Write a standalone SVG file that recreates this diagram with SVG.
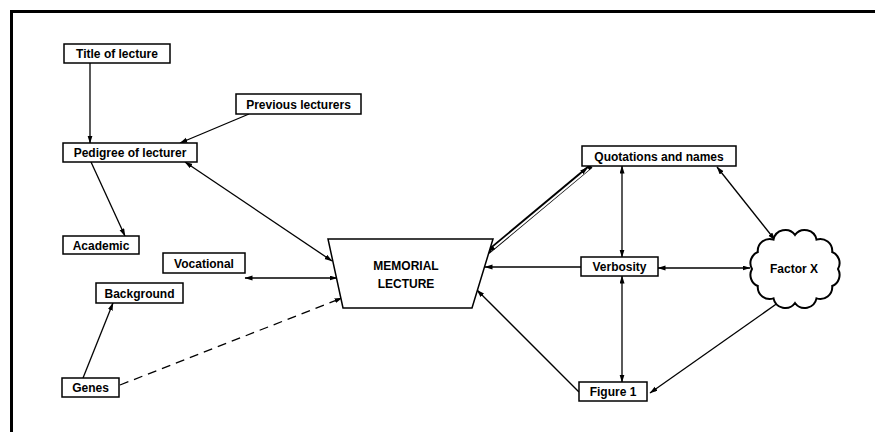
<svg xmlns="http://www.w3.org/2000/svg" width="875" height="432" viewBox="0 0 875 432">
<style>
.box{fill:#fff;stroke:#000;stroke-width:1.5}
.t{font-family:"Liberation Sans",Arial,sans-serif;font-weight:bold;font-size:12px;fill:#000;text-anchor:middle}
.c{stroke:#000;stroke-width:1.3;fill:none}
.frame{stroke:#000;stroke-width:3;fill:none}
</style>
<defs>
<marker id="ah" markerUnits="userSpaceOnUse" markerWidth="9" markerHeight="6" refX="7.5" refY="2.5" orient="auto-start-reverse">
<path d="M0,0 L8,2.5 L0,5 z" fill="#000"/>
</marker>
</defs>
<g id="frame">
<line class="frame" x1="10" y1="11.5" x2="875" y2="11.5"/>
<line class="frame" x1="11.5" y1="10" x2="11.5" y2="432"/>
</g>
<g id="connectors">
<line class="c" x1="90" y1="63" x2="90" y2="143" marker-end="url(#ah)"/>
<line class="c" x1="249" y1="114" x2="180" y2="143" marker-end="url(#ah)"/>
<line class="c" x1="185" y1="162" x2="332" y2="261" marker-start="url(#ah)" marker-end="url(#ah)"/>
<line class="c" x1="91" y1="162" x2="125" y2="236" marker-end="url(#ah)"/>
<line class="c" x1="245" y1="278" x2="337" y2="278" marker-start="url(#ah)" marker-end="url(#ah)"/>
<line class="c" x1="83" y1="378" x2="113" y2="303" marker-end="url(#ah)"/>
<line class="c" x1="120" y1="385" x2="342" y2="298" stroke-dasharray="9 6" marker-end="url(#ah)"/>
<line x1="591" y1="166" x2="488" y2="252" stroke="#000" stroke-width="4.6"/>
<line x1="588.5" y1="169" x2="490.5" y2="250.5" stroke="#fff" stroke-width="2"/>
<path d="M587.5,167.5 L488,252" stroke="none" fill="none" marker-start="url(#ah)" marker-end="url(#ah)"/>
<line class="c" x1="622" y1="166" x2="622" y2="257" marker-start="url(#ah)" marker-end="url(#ah)"/>
<line class="c" x1="717" y1="167" x2="775" y2="240" stroke-width="2" marker-start="url(#ah)" marker-end="url(#ah)"/>
<line class="c" x1="581" y1="267" x2="485" y2="267" marker-end="url(#ah)"/>
<line class="c" x1="658" y1="268" x2="750" y2="268" marker-start="url(#ah)" marker-end="url(#ah)"/>
<line class="c" x1="622" y1="276" x2="622" y2="382" marker-start="url(#ah)" marker-end="url(#ah)"/>
<line class="c" x1="579" y1="392" x2="477" y2="290" marker-end="url(#ah)"/>
<line class="c" x1="650" y1="393" x2="782" y2="300" stroke-width="1.8" marker-start="url(#ah)" marker-end="url(#ah)"/>
</g>
<g id="title"><rect class="box" x="64" y="44" width="106" height="19"/><text class="t" x="117" y="58">Title of lecture</text></g>
<g id="previous"><rect class="box" x="236" y="94" width="125" height="20"/><text class="t" x="298.5" y="108.5">Previous lecturers</text></g>
<g id="pedigree"><rect class="box" x="63" y="143" width="134" height="19"/><text class="t" x="130" y="157">Pedigree of lecturer</text></g>
<g id="academic"><rect class="box" x="63" y="236" width="76" height="18"/><text class="t" x="101" y="249.5">Academic</text></g>
<g id="vocational"><rect class="box" x="163" y="253" width="82" height="20"/><text class="t" x="204" y="267.5">Vocational</text></g>
<g id="background"><rect class="box" x="96" y="283" width="87" height="20"/><text class="t" x="139.5" y="297.5">Background</text></g>
<g id="genes"><rect class="box" x="62" y="378" width="57" height="19"/><text class="t" x="90.5" y="392">Genes</text></g>
<g id="memorial"><polygon class="box" points="328,239 493,239 472,308 343,308"/><text class="t" x="406" y="270">MEMORIAL</text><text class="t" x="406" y="288">LECTURE</text></g>
<g id="quotations"><rect class="box" x="582" y="146" width="154" height="20"/><text class="t" x="659" y="160.5">Quotations and names</text></g>
<g id="verbosity"><rect class="box" x="581" y="257" width="77" height="19"/><text class="t" x="619.5" y="271">Verbosity</text></g>
<g id="figure1"><rect class="box" x="579" y="382" width="68" height="19"/><text class="t" x="613" y="396">Figure 1</text></g>
<g id="factorx"><path d="M752,269 A12,12 0 0 1 757.8,252 A12,12 0 0 1 773.5,239.6 A12,12 0 0 1 795,235 A12,12 0 0 1 816.5,239.6 A12,12 0 0 1 832.2,252 A12,12 0 0 1 838,269 A12,12 0 0 1 832.2,286 A12,12 0 0 1 816.5,298.4 A12,12 0 0 1 795,303 A12,12 0 0 1 773.5,298.4 A12,12 0 0 1 757.8,286 A12,12 0 0 1 752,269 Z" fill="#fff" stroke="#000" stroke-width="2"/><text class="t" x="794" y="273">Factor X</text></g>
</svg>
